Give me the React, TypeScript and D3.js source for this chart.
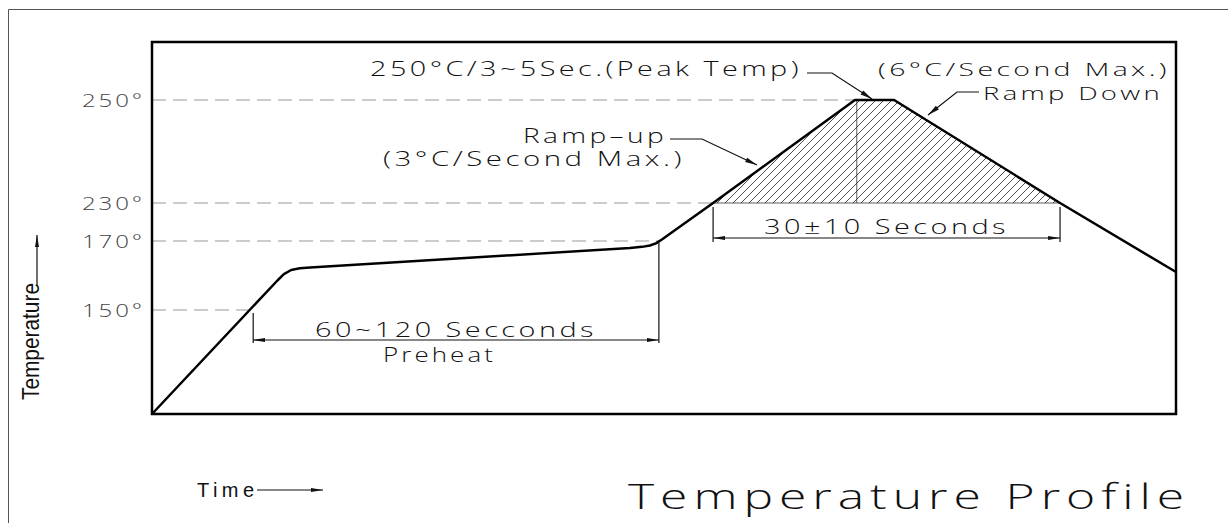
import * as d3 from "d3";

// Reflow profile (time in s, temperature in °C)
const times = [0, 41.8, 43.8, 46.2, 49.1, 52.5, 158.7, 162.7, 165.3, 167.3, 169.3, 186.3, 233.4, 246.4, 301.5, 340];
const temps = [25, 158.7, 160.4, 161.6, 162.1, 162.3, 168.0, 168.3, 168.7, 169.3, 172.4, 230, 250, 250, 230, 161.0];

const tickTemps = [150, 170, 230, 250];
const tickLabels = ["150°", "170°", "230°", "250°"];
// time at which each guide line meets the profile
const tickEnds = [32.5, 168.3, 186.3, 233.4];

const preheatSpan = [33.6, 168.3];
const reflowSpan = [186.3, 301.5];
const peakStart = 234.0;

const W = 1228;
const H = 523;

const cad = "'Open Sans', 'DejaVu Sans', sans-serif";
const plain = "'Liberation Sans', Arial, sans-serif";

export default function App() {
  const x = d3.scaleLinear().domain([0, 340]).range([152, 1176]);
  // the drawing is schematic: temperature axis is piecewise
  const y = d3.scaleLinear().domain([25, 150, 170, 230, 250]).range([414, 310, 241, 203, 100]);

  const pts: [number, number][] = times.map((t, i) => [t, temps[i]]);
  const line = d3.line<[number, number]>().x(d => x(d[0])).y(d => y(d[1]));

  const hot = pts.filter(d => d[0] >= reflowSpan[0] && d[0] <= reflowSpan[1]);
  const hatchPath = line(hot) + "Z";

  // wide, thin "CAD" lettering: light face, stretched to the measured width
  const txt = (s: string, x0: number, y0: number, len: number, size = 20, extra: any = {}) => (
    <text x={x0} y={y0} textLength={len} lengthAdjust="spacingAndGlyphs" fontFamily={cad} fontWeight={300}
      fontSize={size} letterSpacing={size * 0.12} fill="#111" {...extra}>{s}</text>
  );

  return (
    <svg width={W} height={H} style={{ position: "absolute", left: 0, top: 0, background: "#fff" }}>
      <defs>
        <pattern id="hatch" patternUnits="userSpaceOnUse" width={8} height={8}>
          <path d="M-1,1 L1,-1 M0,8 L8,0 M7,9 L9,7" stroke="#222" strokeWidth={0.8} />
        </pattern>
        <marker id="dim" viewBox="0 0 12 6" refX={12} refY={3} markerWidth={12} markerHeight={6}
          orient="auto-start-reverse" markerUnits="userSpaceOnUse">
          <path d="M0,1 L12,3 L0,5 z" fill="#111" />
        </marker>
        <marker id="lead" viewBox="0 0 12 6" refX={12} refY={3} markerWidth={13} markerHeight={6}
          orient="auto" markerUnits="userSpaceOnUse">
          <path d="M0,0.6 L12,3 L0,5.4 z" fill="#111" />
        </marker>
      </defs>

      {/* outer sheet border */}
      <path d="M8.5,523 L8.5,9.5 L1228,9.5" fill="none" stroke="#555" strokeWidth={1} />

      {/* guide lines */}
      {tickTemps.map((t, i) => (
        <g key={t}>
          <line x1={x(0)} x2={x(tickEnds[i])} y1={y(t)} y2={y(t)} stroke="#999" strokeWidth={1}
            strokeDasharray="14 7" />
          {txt(tickLabels[i], 82, y(t) + 7, 63, 19, { fill: "#444" })}
        </g>
      ))}

      {/* hatched time above liquidus */}
      <path d={hatchPath} fill="url(#hatch)" stroke="none" />
      <line x1={x(reflowSpan[0])} x2={x(reflowSpan[1])} y1={y(230)} y2={y(230)} stroke="#333" strokeWidth={0.8} />
      <line x1={x(peakStart)} x2={x(peakStart)} y1={y(250)} y2={y(230)} stroke="#333" strokeWidth={0.8} />

      {/* profile */}
      <path d={line(pts) ?? ""} fill="none" stroke="#000" strokeWidth={2.5} strokeLinejoin="round" />

      {/* frame */}
      <rect x={152} y={42} width={1024} height={372} fill="none" stroke="#000" strokeWidth={2.5} />

      {/* preheat dimension */}
      <line x1={x(preheatSpan[0])} x2={x(preheatSpan[0])} y1={313} y2={343} stroke="#111" strokeWidth={1.2} />
      <line x1={x(preheatSpan[1])} x2={x(preheatSpan[1])} y1={y(170)} y2={343} stroke="#111" strokeWidth={1.2} />
      <line x1={x(preheatSpan[0])} x2={x(preheatSpan[1])} y1={340} y2={340} stroke="#111" strokeWidth={1}
        markerStart="url(#dim)" markerEnd="url(#dim)" />
      {txt("60~120 Secconds", 315, 337, 282)}
      {txt("Preheat", 383, 362, 113)}

      {/* reflow dimension */}
      <line x1={x(reflowSpan[0])} x2={x(reflowSpan[0])} y1={207} y2={242} stroke="#111" strokeWidth={1.2} />
      <line x1={x(reflowSpan[1])} x2={x(reflowSpan[1])} y1={207} y2={242} stroke="#111" strokeWidth={1.2} />
      <line x1={x(reflowSpan[0])} x2={x(reflowSpan[1])} y1={238} y2={238} stroke="#111" strokeWidth={1}
        markerStart="url(#dim)" markerEnd="url(#dim)" />
      {txt("30±10 Seconds", 764, 234, 245)}

      {/* leaders */}
      {txt("250°C/3~5Sec.(Peak Temp)", 370, 76, 432)}
      <polyline points="807,73 832,73 872,99" fill="none" stroke="#111" strokeWidth={1.2} markerEnd="url(#lead)" />

      {txt("Ramp–up", 523, 143, 144)}
      {txt("(3°C/Second Max.)", 383, 166, 302)}
      <polyline points="670,139 702,139 757,165" fill="none" stroke="#111" strokeWidth={1.2} markerEnd="url(#lead)" />

      {txt("(6°C/Second Max.)", 878, 76, 292, 19)}
      {txt("Ramp Down", 983, 100, 180, 19)}
      <polyline points="979,92 957,92 928,115" fill="none" stroke="#111" strokeWidth={1.2} markerEnd="url(#lead)" />

      {/* axis captions */}
      <text transform="translate(39,400) rotate(-90)" textLength={117} lengthAdjust="spacingAndGlyphs"
        fontFamily={plain} fontSize={24} fill="#111">Temperature</text>
      <line x1={37} x2={37} y1={286} y2={235} stroke="#111" strokeWidth={1.2} markerEnd="url(#dim)" />

      <text x={197} y={497} textLength={57} lengthAdjust="spacing" fontFamily={plain} fontSize={20}
        fill="#111">Time</text>
      <line x1={257} x2={323} y1={490} y2={490} stroke="#111" strokeWidth={1.2} markerEnd="url(#dim)" />

      {txt("Temperature Profile", 628, 509, 562, 34)}
    </svg>
  );
}
